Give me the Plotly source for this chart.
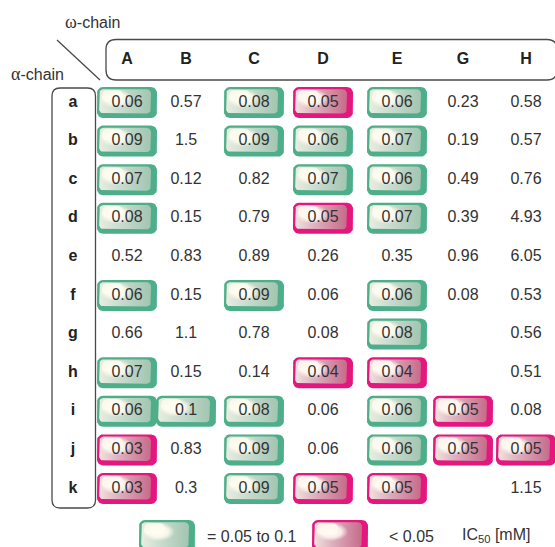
import math
import plotly.graph_objects as go

# ---- data -------------------------------------------------------------
alpha_chains = ["a", "b", "c", "d", "e", "f", "g", "h", "i", "j", "k"]
omega_chains = ["A", "B", "C", "D", "E", "G", "H"]

# IC50 values in mM (rows = alpha-chain, columns = omega-chain); None = not tested
ic50_mM = [
    [0.06, 0.57, 0.08, 0.05, 0.06, 0.23, 0.58],
    [0.09, 1.5, 0.09, 0.06, 0.07, 0.19, 0.57],
    [0.07, 0.12, 0.82, 0.07, 0.06, 0.49, 0.76],
    [0.08, 0.15, 0.79, 0.05, 0.07, 0.39, 4.93],
    [0.52, 0.83, 0.89, 0.26, 0.35, 0.96, 6.05],
    [0.06, 0.15, 0.09, 0.06, 0.06, 0.08, 0.53],
    [0.66, 1.1, 0.78, 0.08, 0.08, None, 0.56],
    [0.07, 0.15, 0.14, 0.04, 0.04, None, 0.51],
    [0.06, 0.1, 0.08, 0.06, 0.06, 0.05, 0.08],
    [0.03, 0.83, 0.09, 0.06, 0.06, 0.05, 0.05],
    [0.03, 0.3, 0.09, 0.05, 0.05, None, 1.15],
]

# cells singled out as potent combinations (1 = highlighted)
highlighted = [
    "1011100",
    "1011100",
    "1001100",
    "1001100",
    "0000000",
    "1010100",
    "0000100",
    "1001100",
    "1110110",
    "1010111",
    "1011100",
]

# ---- layout constants (pixel space) ------------------------------------
W, H = 555, 547
col_x = [127, 186, 254, 323, 397, 463, 526]
row_y0, row_step = 102.5, 38.6
box_w, box_h = 60, 31

FONT = "Liberation Sans, Arial, Helvetica, sans-serif"
SERIF = "Liberation Serif, Times New Roman, serif"
TEXT_COLOR = "#333333"

STYLES = {
    "green": dict(
        border="#4dae89",
        grad=[[0, "#e9ede0"], [0.4, "#c9dccf"], [1, "#a2c5b1"]],
        glow="255,252,240",
    ),
    "pink": dict(
        border="#e3177e",
        grad=[[0, "#f1e2dd"], [0.4, "#dcaebd"], [1, "#c76b8a"]],
        glow="255,250,242",
    ),
}


def rrect(x0, y0, x1, y1, r, n=6):
    """Polygon of a rounded rectangle."""
    pts = []
    corners = [
        (x1 - r, y0 + r, -90, 0),
        (x1 - r, y1 - r, 0, 90),
        (x0 + r, y1 - r, 90, 180),
        (x0 + r, y0 + r, 180, 270),
    ]
    for cx, cy, a0, a1 in corners:
        for i in range(n + 1):
            a = math.radians(a0 + (a1 - a0) * i / n)
            pts.append((cx + r * math.cos(a), cy + r * math.sin(a)))
    pts.append(pts[0])
    return [p[0] for p in pts], [p[1] for p in pts]


def rrect_path(x0, y0, x1, y1, r):
    return (f"M{x0 + r},{y0} L{x1 - r},{y0} Q{x1},{y0} {x1},{y0 + r} "
            f"L{x1},{y1 - r} Q{x1},{y1} {x1 - r},{y1} L{x0 + r},{y1} "
            f"Q{x0},{y1} {x0},{y1 - r} L{x0},{y0 + r} Q{x0},{y0} {x0 + r},{y0} Z")


def fill_trace(xs, ys, color=None, gradient=None, gtype="horizontal"):
    kw = dict(x=xs, y=ys, mode="lines", fill="toself", line=dict(width=0),
              hoverinfo="skip", showlegend=False)
    if gradient is not None:
        kw["fillgradient"] = dict(type=gtype, colorscale=gradient)
    else:
        kw["fillcolor"] = color
    return go.Scatter(**kw)


def pill(cx, cy, w, h, kind):
    """Glossy rounded badge drawn from stacked fills."""
    st = STYLES[kind]
    g = st["glow"]
    x0, y0, x1, y1 = cx - w / 2, cy - h / 2, cx + w / 2, cy + h / 2
    out = []
    xs, ys = rrect(x0, y0, x1, y1, 6)
    out.append(fill_trace(xs, ys, color=st["border"]))
    xs, ys = rrect(x0 + 2.2, y0 + 2.2, x1 - 6, y1 - 4.5, 4.5)
    out.append(fill_trace(xs, ys, gradient=st["grad"]))
    # soft glossy glow in the upper-left part
    xs, ys = rrect(x0 + 2.5, y0 + 2.4, x0 + 36, y0 + 21, 7)
    out.append(fill_trace(xs, ys, gradient=[
        [0, f"rgba({g},1)"], [0.6, f"rgba({g},0.85)"], [1, f"rgba({g},0)"]],
        gtype="radial"))
    xs, ys = rrect(x0 + 5, y0 + 3.2, x0 + 26, y0 + 15, 5)
    out.append(fill_trace(xs, ys, color=f"rgba({g},0.75)"))
    return out


fig = go.Figure()

# badges behind highlighted values
for r, row in enumerate(ic50_mM):
    for c, v in enumerate(row):
        if v is None or highlighted[r][c] != "1":
            continue
        kind = "pink" if v <= 0.05 else "green"
        for tr in pill(col_x[c], row_y0 + r * row_step, box_w, box_h, kind):
            fig.add_trace(tr)

# legend badges
legend_y = 536
for tr in pill(167, legend_y, 56, 32, "green"):
    fig.add_trace(tr)
for tr in pill(340, legend_y, 56, 32, "pink"):
    fig.add_trace(tr)

# cell values
tx, ty, tt = [], [], []
for r, row in enumerate(ic50_mM):
    for c, v in enumerate(row):
        if v is None:
            continue
        tx.append(col_x[c])
        ty.append(row_y0 + r * row_step)
        tt.append(f"{v:g}")
fig.add_trace(go.Scatter(x=tx, y=ty, text=tt, mode="text",
                         textfont=dict(family=FONT, size=16, color=TEXT_COLOR),
                         hoverinfo="skip", showlegend=False))

# column headers
fig.add_trace(go.Scatter(
    x=col_x, y=[60] * len(omega_chains), text=omega_chains, mode="text",
    textfont=dict(family=FONT, size=16, color="#222222", weight="bold"),
    hoverinfo="skip", showlegend=False))

# row headers
fig.add_trace(go.Scatter(
    x=[73] * len(alpha_chains),
    y=[row_y0 + i * row_step for i in range(len(alpha_chains))],
    text=alpha_chains, mode="text",
    textfont=dict(family=FONT, size=16, color="#222222", weight="bold"),
    hoverinfo="skip", showlegend=False))

# frames around the headers and the corner divider
frame = dict(color="#4a4a4a", width=1.3)
fig.add_shape(type="path", path=rrect_path(106, 39.5, 557, 80, 10), line=frame)
fig.add_shape(type="path", path=rrect_path(52, 88, 95.5, 508, 8), line=frame)
fig.add_shape(type="line", x0=57, y0=40, x1=100, y1=80, line=frame)

annot = dict(showarrow=False, font=dict(family=FONT, size=16, color=TEXT_COLOR),
             xref="x", yref="y")
greek = '<span style="font-family:{f};font-size:18px">{c}</span>'
fig.add_annotation(x=92, y=22, text=greek.format(f=SERIF, c="ω") + "-chain", **annot)
fig.add_annotation(x=37, y=74, text=greek.format(f=SERIF, c="α") + "-chain", **annot)
fig.add_annotation(x=205, y=legend_y, text="= 0.05 to 0.1", xanchor="left", **annot)
fig.add_annotation(x=387, y=legend_y, text="< 0.05", xanchor="left", **annot)
fig.add_annotation(x=460, y=legend_y - 1, text="IC<sub>50</sub> [mM]", xanchor="left", **annot)

fig.update_layout(
    width=W, height=H,
    margin=dict(l=0, r=0, t=0, b=0),
    paper_bgcolor="white", plot_bgcolor="white",
    xaxis=dict(range=[0, W], visible=False, fixedrange=True),
    yaxis=dict(range=[H, 0], visible=False, fixedrange=True),
    showlegend=False,
)

fig.write_html("out.html")
